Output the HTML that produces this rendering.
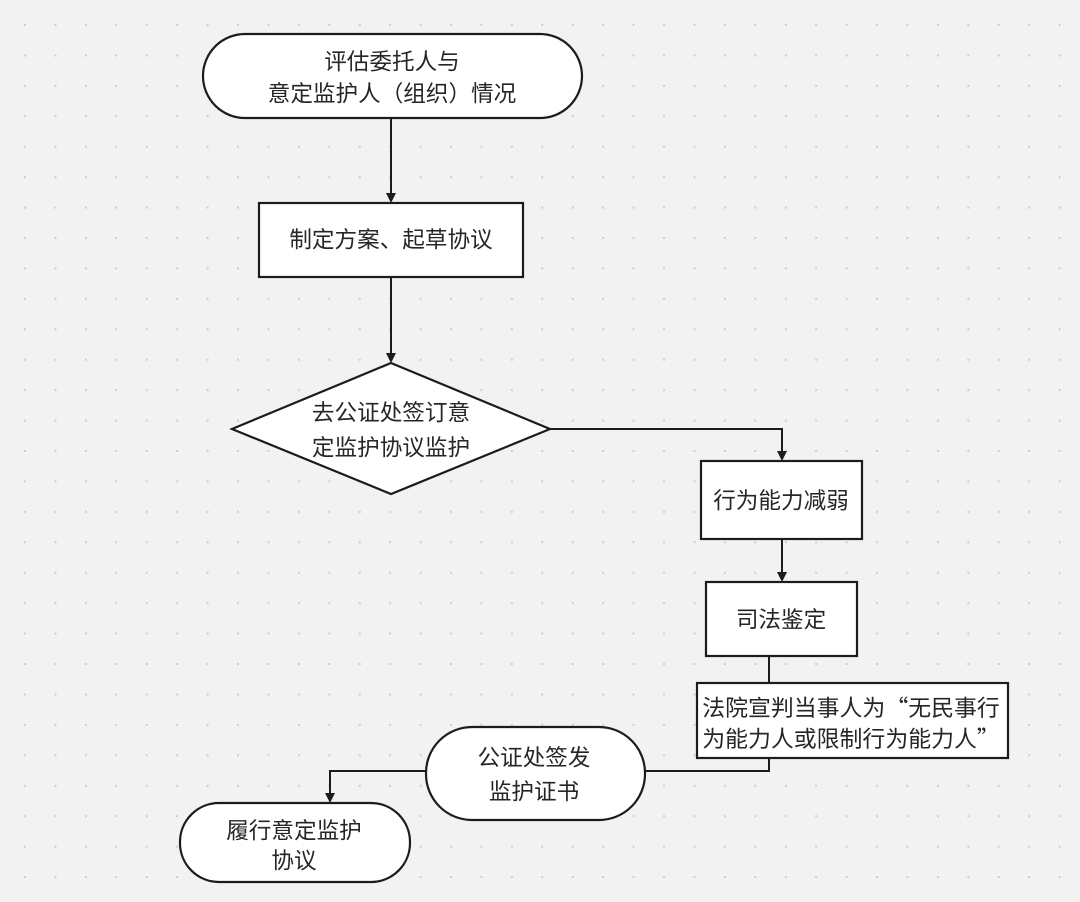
<!DOCTYPE html>
<html><head><meta charset="utf-8">
<style>
html,body{margin:0;padding:0;}
body{width:1080px;height:902px;overflow:hidden;background:#f2f2f2;}
svg{display:block;}
text{font-family:"Liberation Sans","Noto Sans CJK SC",sans-serif;font-size:22.6px;fill:#262626;text-anchor:middle;dominant-baseline:central;}
text.cjk{font-family:"Noto Sans CJK SC",sans-serif;font-size:22.9px;}
</style></head>
<body>
<svg width="1080" height="902" viewBox="0 0 1080 902" xmlns="http://www.w3.org/2000/svg">
<defs>
<pattern id="dots" x="25" y="25" width="30.43" height="30.43" patternUnits="userSpaceOnUse">
<rect x="-1" y="-1" width="2" height="2" fill="#cdcdcd"/>
<rect x="29.43" y="-1" width="2" height="2" fill="#cdcdcd"/>
<rect x="-1" y="29.43" width="2" height="2" fill="#cdcdcd"/>
<rect x="29.43" y="29.43" width="2" height="2" fill="#cdcdcd"/>
</pattern>
</defs>
<rect x="0" y="0" width="1080" height="902" fill="#f2f2f2"/>
<rect x="0" y="0" width="1080" height="902" fill="url(#dots)"/>

<g stroke="#1c1c1c" stroke-width="2" fill="none">
<line x1="391" y1="118" x2="391" y2="194"/>
<line x1="391" y1="277" x2="391" y2="354"/>
<polyline points="550,429 782,429 782,452"/>
<line x1="782" y1="539" x2="782" y2="573"/>
<line x1="769" y1="656" x2="769" y2="683"/>
<polyline points="769,758 769,771 644,771"/>
<polyline points="426,771 330,771 330,794"/>
</g>
<g fill="#1c1c1c">
<polygon points="386,193 396,193 391,203"/>
<polygon points="386,353 396,353 391,363"/>
<polygon points="777,451 787,451 782,461"/>
<polygon points="777,572 787,572 782,582"/>
<polygon points="325,793 335,793 330,803"/>
</g>

<g stroke="#1c1c1c" stroke-width="2.2" fill="#ffffff">
<rect x="203" y="34" width="379" height="84" rx="42" ry="42"/>
<rect x="259" y="203" width="264" height="74"/>
<polygon points="391,363 550,429 391,494 232,429"/>
<rect x="701" y="461" width="161" height="78"/>
<rect x="706" y="582" width="151" height="74"/>
<rect x="697" y="683" width="311" height="75"/>
<rect x="426" y="727" width="219" height="93" rx="46" ry="46"/>
<rect x="180" y="803" width="230" height="79" rx="39" ry="39"/>
</g>

<text x="392" y="62">评估委托人与</text>
<text x="392" y="94">意定监护人（组织）情况</text>
<text x="391" y="240">制定方案、起草协议</text>
<text x="391" y="413">去公证处签订意</text>
<text x="391" y="448">定监护协议监护</text>
<text x="781" y="501">行为能力减弱</text>
<text x="781" y="620">司法鉴定</text>
<text class="cjk" x="851" y="706">法院宣判当事人为“无民事行</text>
<text class="cjk" x="851" y="737">为能力人或限制行为能力人”</text>
<text x="534" y="758">公证处签发</text>
<text x="534" y="792">监护证书</text>
<text x="294" y="831">履行意定监护</text>
<text x="294" y="861">协议</text>
</svg>
</body></html>
